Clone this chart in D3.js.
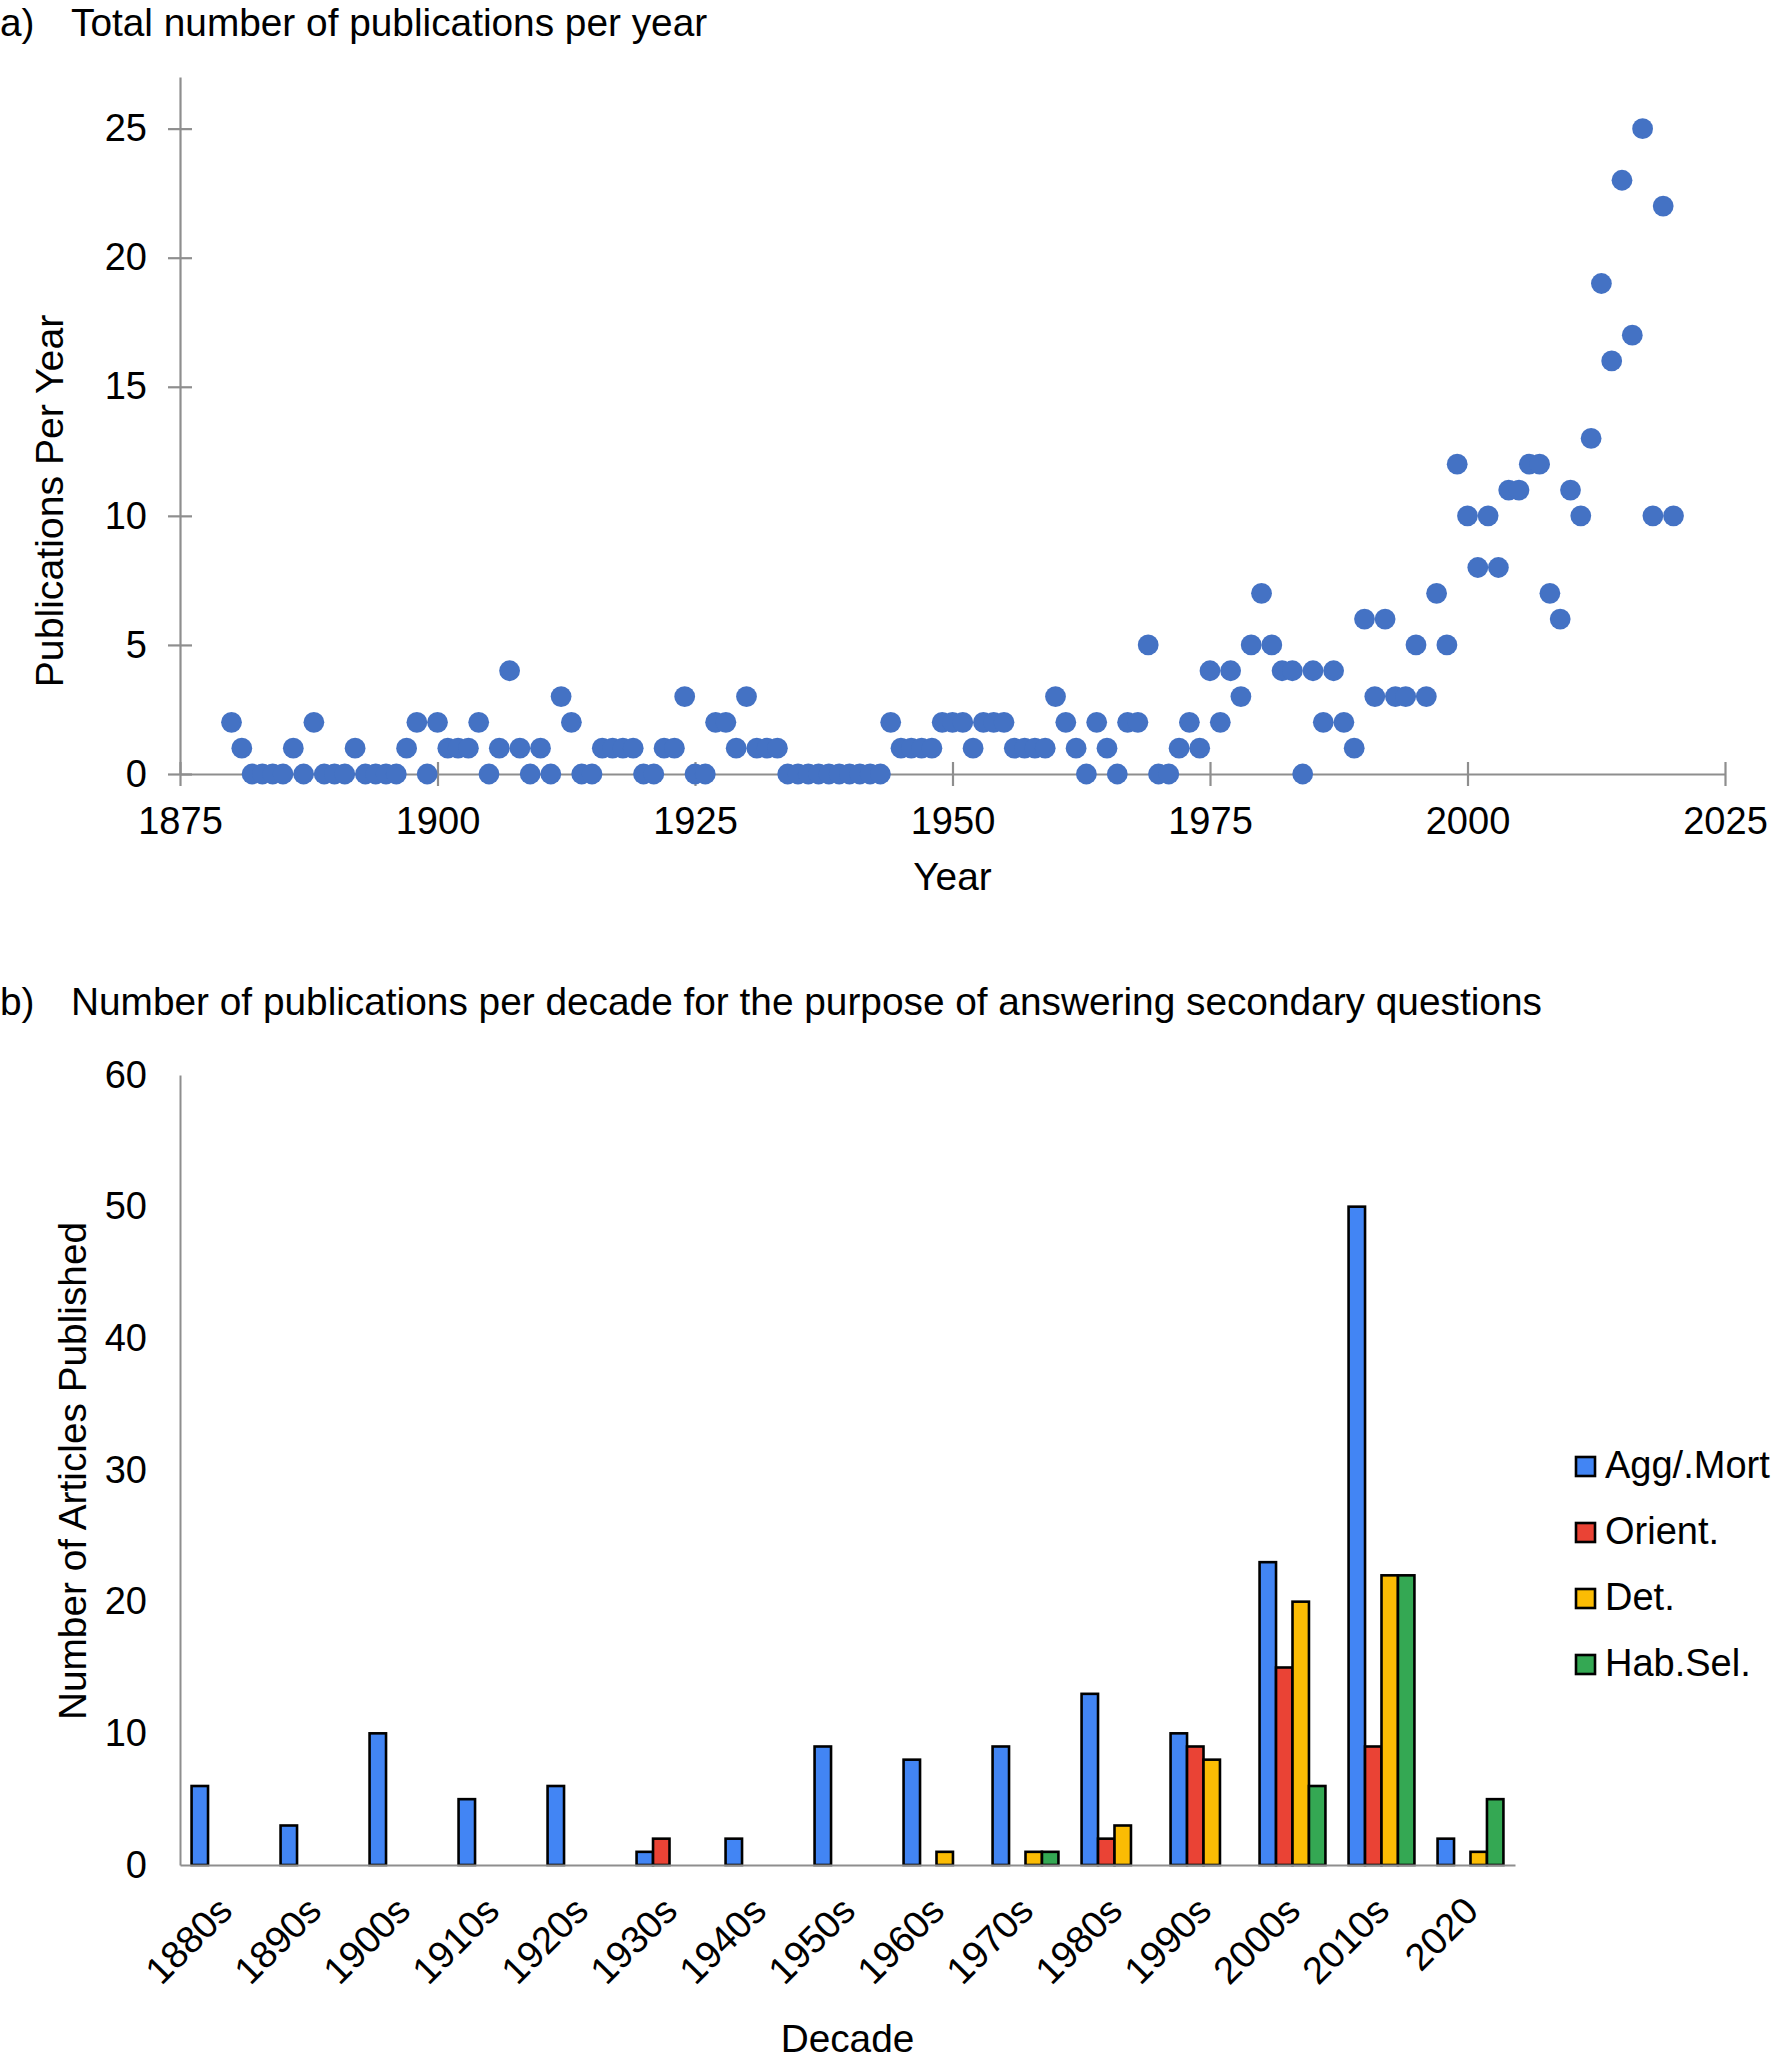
<!DOCTYPE html>
<html>
<head>
<meta charset="utf-8">
<script src="https://cdn.jsdelivr.net/npm/d3@7"></script>
<style>
  html, body { margin: 0; padding: 0; background: #fff; }
  svg { display: block; }
  text { font-family: "Liberation Sans", Arial, sans-serif; fill: #000; }
</style>
</head>
<body>
<script>
// ---------- Panel a data ----------
const years = [
  1880,1881,1882,1883,1884,1885,1886,1887,1888,1889,
  1890,1891,1892,1893,1894,1895,1896,1897,1898,1899,
  1900,1901,1902,1903,1904,1905,1906,1907,1908,1909,
  1910,1911,1912,1913,1914,1915,1916,1917,1918,1919,
  1920,1921,1922,1923,1924,1925,1926,1927,1928,1929,
  1930,1931,1932,1933,1934,1935,1936,1937,1938,1939,
  1940,1941,1942,1943,1944,1945,1946,1947,1948,1949,
  1950,1951,1952,1953,1954,1955,1956,1957,1958,1959,
  1960,1961,1962,1963,1964,1965,1966,1967,1968,1969,
  1970,1971,1972,1973,1974,1975,1976,1977,1978,1979,
  1980,1981,1982,1983,1984,1985,1986,1987,1988,1989,
  1990,1991,1992,1993,1994,1995,1996,1997,1998,1999,
  2000,2001,2002,2003,2004,2005,2006,2007,2008,2009,
  2010,2011,2012,2013,2014,2015,2016,2017,2018,2019,
  2020
];
const publications = [
  2,1,0,0,0,0,1,0,2,0,
  0,0,1,0,0,0,0,1,2,0,
  2,1,1,1,2,0,1,4,1,0,
  1,0,3,2,0,0,1,1,1,1,
  0,0,1,1,3,0,0,2,2,1,
  3,1,1,1,0,0,0,0,0,0,
  0,0,0,0,2,1,1,1,1,2,
  2,2,1,2,2,2,1,1,1,1,
  3,2,1,0,2,1,0,2,2,5,
  0,0,1,2,1,4,2,4,3,5,
  7,5,4,4,0,4,2,4,2,1,
  6,3,6,3,3,5,3,7,5,12,
  10,8,10,8,11,11,12,12,7,6,
  11,10,13,19,16,23,17,25,10,22,
  10
];
const yearTicks = [1875, 1900, 1925, 1950, 1975, 2000, 2025];
const pubTicks = [0, 5, 10, 15, 20, 25];

// ---------- Panel b data ----------
const decades = ["1880s","1890s","1900s","1910s","1920s","1930s","1940s","1950s","1960s","1970s","1980s","1990s","2000s","2010s","2020"];
const seriesNames = ["Agg/.Mort", "Orient.", "Det.", "Hab.Sel."];
const aggMort = [6,3,10,5,6,1,2,9,8,9,13,10,23,50,2];
const orient  = [0,0,0,0,0,2,0,0,0,0,2,9,15,9,0];
const det     = [0,0,0,0,0,0,0,0,1,1,3,8,20,22,1];
const habSel  = [0,0,0,0,0,0,0,0,0,1,0,0,6,22,5];
const seriesColors = ["#4285F4", "#EA4335", "#FBBC04", "#34A853"];
const articleTicks = [0, 10, 20, 30, 40, 50, 60];

// ---------- Drawing ----------
const W = 1773, H = 2066;
const FONT = 38;
const TITLE_FONT = 38.8;
const AXIS_COLOR = "#8e8e8e";

const svg = d3.select("body").append("svg")
  .attr("width", W).attr("height", H)
  .attr("viewBox", `0 0 ${W} ${H}`);

svg.append("rect").attr("width", W).attr("height", H).attr("fill", "#fff");

// ===== Panel a =====
const aLeft = 180, aRight = 1725, aBottom = 774, aTop = 77;
const xA = d3.scaleLinear().domain([1875, 2025]).range([aLeft, aRight]);
const yA = d3.scaleLinear().domain([0, 27]).range([aBottom, aTop]);

svg.append("text")
  .attr("x", 0).attr("y", 36)
  .style("font-size", TITLE_FONT + "px")
  .text("a)");
svg.append("text")
  .attr("x", 71).attr("y", 36)
  .style("font-size", TITLE_FONT + "px")
  .text("Total number of publications per year");

const gxA = svg.append("g")
  .attr("transform", `translate(0,${aBottom})`)
  .call(d3.axisBottom(xA).tickValues(yearTicks).tickFormat(d3.format("d"))
    .tickSize(12).tickSizeOuter(0).tickPadding(21));
gxA.selectAll("line").attr("y1", -12).attr("y2", 12);

const gyA = svg.append("g")
  .attr("transform", `translate(${aLeft},0)`)
  .call(d3.axisLeft(yA).tickValues(pubTicks)
    .tickSize(12).tickSizeOuter(0).tickPadding(21));
gyA.selectAll("line").attr("x1", 12).attr("x2", -12);

[gxA, gyA].forEach(g => {
  g.select(".domain").attr("stroke", AXIS_COLOR).attr("stroke-width", 2.2);
  g.selectAll(".tick line").attr("stroke", AXIS_COLOR).attr("stroke-width", 2.2);
  g.selectAll("text").attr("fill", "#000")
    .style("font-size", FONT + "px")
    .style("font-family", '"Liberation Sans", Arial, sans-serif');
});

svg.append("text")
  .attr("x", (aLeft + aRight) / 2).attr("y", 890)
  .attr("text-anchor", "middle")
  .style("font-size", TITLE_FONT + "px")
  .text("Year");

svg.append("text")
  .attr("transform", `translate(63,501) rotate(-90)`)
  .attr("text-anchor", "middle")
  .style("font-size", (TITLE_FONT + 0.4) + "px")
  .text("Publications Per Year");

svg.append("g").selectAll("circle")
  .data(years.map((y, i) => ({ year: y, value: publications[i] })))
  .join("circle")
  .attr("cx", d => xA(d.year))
  .attr("cy", d => yA(d.value))
  .attr("r", 10.4)
  .attr("fill", "#4472C4");

// ===== Panel b =====
const bLeft = 180, bRight = 1515, bBottom = 1865, bTop = 1075;

svg.append("text")
  .attr("x", 0).attr("y", 1015)
  .style("font-size", TITLE_FONT + "px")
  .text("b)");
svg.append("text")
  .attr("x", 71).attr("y", 1015)
  .style("font-size", TITLE_FONT + "px")
  .text("Number of publications per decade for the purpose of answering secondary questions");

const x0 = d3.scaleBand().domain(decades).range([bLeft, bRight]).padding(0);
const pad = x0.bandwidth() * 0.13;
const x1 = d3.scaleBand().domain(seriesNames).range([pad, x0.bandwidth() - pad]).padding(0);
const yB = d3.scaleLinear().domain([0, 60]).range([bBottom, bTop]);

const seriesValues = [aggMort, orient, det, habSel];
const barData = [];
decades.forEach((dec, i) => {
  seriesNames.forEach((s, j) => {
    barData.push({ decade: dec, series: s, value: seriesValues[j][i], color: seriesColors[j] });
  });
});

svg.append("g").selectAll("rect")
  .data(barData.filter(d => d.value > 0))
  .join("rect")
  .attr("x", d => x0(d.decade) + x1(d.series))
  .attr("width", x1.bandwidth())
  .attr("y", d => yB(d.value))
  .attr("height", d => yB(0) - yB(d.value))
  .attr("fill", d => d.color)
  .attr("stroke", "#000")
  .attr("stroke-width", 2.6);

const gyB = svg.append("g")
  .attr("transform", `translate(${bLeft},0)`)
  .call(d3.axisLeft(yB).tickValues(articleTicks).tickSize(0).tickSizeOuter(0).tickPadding(33));
gyB.select(".domain").attr("stroke", AXIS_COLOR).attr("stroke-width", 2);
gyB.selectAll("text").attr("fill", "#000")
  .style("font-size", FONT + "px")
  .style("font-family", '"Liberation Sans", Arial, sans-serif');

const gxB = svg.append("g")
  .attr("transform", `translate(0,${bBottom})`)
  .call(d3.axisBottom(x0).tickSize(0).tickSizeOuter(0).tickFormat(() => ""));
gxB.select(".domain").attr("stroke", AXIS_COLOR).attr("stroke-width", 2.2);

svg.append("g").selectAll("text")
  .data(decades)
  .join("text")
  .attr("transform", d => `translate(${x0(d) + x0.bandwidth() / 2 + 10},${bBottom + 48}) rotate(-45)`)
  .attr("text-anchor", "end")
  .style("font-size", FONT + "px")
  .text(d => d);

svg.append("text")
  .attr("x", (bLeft + bRight) / 2).attr("y", 2052)
  .attr("text-anchor", "middle")
  .style("font-size", TITLE_FONT + "px")
  .text("Decade");

svg.append("text")
  .attr("transform", `translate(86,1471) rotate(-90)`)
  .attr("text-anchor", "middle")
  .style("font-size", TITLE_FONT + "px")
  .text("Number of Articles Published");

// Legend
const legend = svg.append("g");
seriesNames.forEach((s, j) => {
  const ly = 1457 + j * 66;
  legend.append("rect")
    .attr("x", 1576).attr("y", ly)
    .attr("width", 19).attr("height", 19)
    .attr("fill", seriesColors[j])
    .attr("stroke", "#000").attr("stroke-width", 2.6);
  legend.append("text")
    .attr("x", 1605).attr("y", ly + 21)
    .style("font-size", FONT + "px")
    .text(s);
});
</script>
</body>
</html>
